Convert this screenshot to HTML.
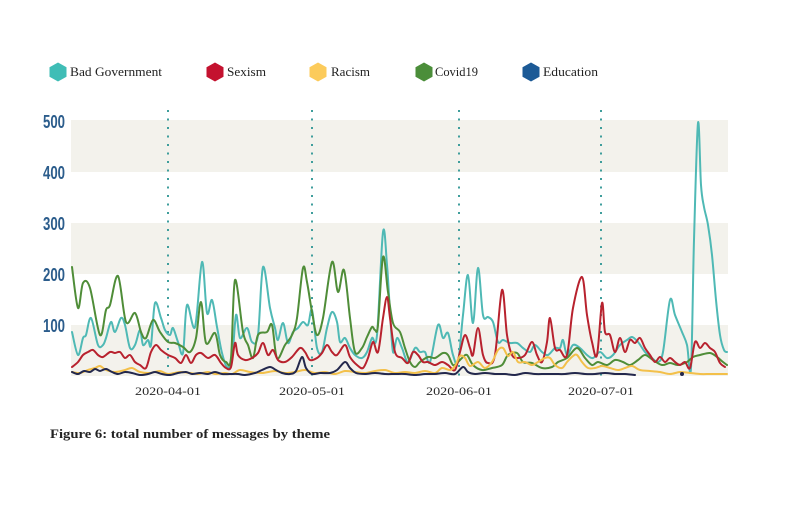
<!DOCTYPE html>
<html><head><meta charset="utf-8"><style>
html,body{margin:0;padding:0;background:#fff;}
svg{display:block;}
</style></head><body>
<svg width="799" height="508" viewBox="0 0 799 508" xmlns="http://www.w3.org/2000/svg">
<rect width="799" height="508" fill="#fff"/>
<rect x="71" y="120" width="657" height="52" fill="#f3f2ec"/>
<rect x="71" y="223" width="657" height="51" fill="#f3f2ec"/>
<rect x="71" y="325" width="657" height="51" fill="#f3f2ec"/>
<g font-family="'Liberation Sans Narrow','Liberation Sans',sans-serif" font-size="18" font-weight="bold" fill="#2c5d8c">
<text x="43" y="128" textLength="22" lengthAdjust="spacingAndGlyphs">500</text>
<text x="43" y="179" textLength="22" lengthAdjust="spacingAndGlyphs">400</text>
<text x="43" y="230" textLength="22" lengthAdjust="spacingAndGlyphs">300</text>
<text x="43" y="281" textLength="22" lengthAdjust="spacingAndGlyphs">200</text>
<text x="43" y="332" textLength="22" lengthAdjust="spacingAndGlyphs">100</text>
</g>
<g stroke="#3f9e9c" stroke-width="2" stroke-dasharray="2 6.5">
<line x1="168" y1="110" x2="168" y2="376"/>
<line x1="312" y1="110" x2="312" y2="376"/>
<line x1="459" y1="110" x2="459" y2="376"/>
<line x1="601" y1="110" x2="601" y2="376"/>
</g>
<g fill="none" stroke-width="2" stroke-linejoin="round" stroke-linecap="round">
<polyline class="s" stroke="#4fb9b5" points="72,332 78,355 83,338 86,335 91,318 98,345 103,345 106,338 111,322 115,332 121,318 125,325 130,348 135,345 140,330 143,345 148,340 151,345 155,303 161,318 165,330 170,335 173,328 178,342 183,353 187,305 195,327 202,262 207,313 212,300 217,327 222,353 227,367 232,360 236,315 240,338 247,328 252,342 258,335 263,267 270,308 275,328 278,340 283,323 288,343 293,332 298,328 303,322 308,325 312,310 317,348 322,352 327,328 332,312 337,322 340,342 345,338 350,348 355,355 362,358 367,352 372,338 377,335 383,232 387,265 390,312 393,352 397,338 402,348 408,362 415,348 420,352 425,352 430,362 438,325 443,338 448,333 453,355 458,362 463,315 468,275 473,323 478,268 483,315 488,317 493,322 498,342 503,340 510,343 517,343 523,348 530,352 535,345 542,352 548,355 555,348 560,348 563,340 567,355 573,345 580,348 587,355 593,358 600,352 607,358 613,355 620,345 627,340 632,337 638,342 645,352 652,358 658,362 663,352 670,300 675,315 682,332 687,345 691,368 694,240 698,123 701,185 704,207 708,225 712,255 716,300 720,335 724,350 727,352"/>
<polyline class="s" stroke="#4f8d38" points="72,267 78,308 83,283 90,288 100,335 106,310 110,305 118,276 126,322 135,313 141,332 146,338 153,320 160,332 168,342 175,343 183,347 190,352 196,338 201,302 206,343 215,333 220,355 226,362 231,358 235,280 243,332 248,345 253,358 258,335 267,332 272,325 277,358 285,345 292,335 297,318 303,268 307,282 312,312 317,335 323,318 332,262 338,292 344,270 350,318 355,352 362,348 367,337 372,327 375,330 378,325 383,257 388,292 393,323 400,332 405,348 410,362 415,367 420,362 428,357 435,358 443,353 448,355 453,365 458,362 462,358 467,355 473,365 482,370 492,368 502,365 508,355 517,353 523,362 532,363 542,368 552,367 558,362 567,358 577,348 585,358 592,365 598,362 607,365 615,360 623,362 630,365 638,360 645,355 653,360 662,365 670,363 678,365 687,362 693,357 700,355 710,353 717,357 723,362 727,365"/>
<polyline class="s" stroke="#b8222e" points="72,367 78,362 83,355 88,352 93,350 98,355 103,357 110,352 115,353 120,352 125,358 130,355 135,362 140,365 146,368 151,352 156,345 161,350 168,355 175,358 181,363 186,355 191,363 196,355 201,353 208,358 215,355 221,363 226,368 231,367 235,343 238,355 245,360 252,358 258,353 263,343 268,355 273,350 278,360 285,362 292,357 300,348 305,352 310,360 317,358 322,353 327,345 332,352 337,355 345,345 350,357 357,365 363,368 368,358 373,342 378,352 383,318 387,297 390,318 395,352 402,358 408,363 413,352 418,355 423,362 428,362 435,365 442,362 448,365 455,370 460,352 465,335 470,348 473,355 478,328 483,355 488,363 495,355 502,290 507,335 512,355 518,358 525,355 532,342 537,355 542,362 547,342 550,318 555,348 560,350 567,355 573,308 582,277 587,315 592,342 597,355 602,303 605,332 610,335 615,352 620,338 625,352 630,340 635,343 640,338 645,348 650,355 655,362 660,357 665,362 670,358 675,362 680,365 685,362 690,368 695,342 700,348 705,343 710,348 715,352 720,363 725,367"/>
<polyline class="s" stroke="#f3c04a" points="72,372 80,373 88,370 95,368 100,366 106,370 115,372 125,370 132,368 140,372 150,373 160,371 168,374 180,372 190,373 198,374 208,372 215,374 225,373 232,374 240,370 250,372 262,373 275,371 285,373 295,372 305,370 315,373 325,372 335,374 345,371 355,372 365,373 375,371 385,370 395,373 405,372 415,373 425,371 435,373 442,368 450,370 455,366 460,356 465,358 470,366 478,362 485,368 492,362 498,350 503,348 508,356 513,352 518,362 525,362 532,365 538,362 545,358 550,358 555,365 562,368 567,362 573,356 577,355 582,362 588,368 595,368 602,366 610,368 618,370 625,368 632,366 640,370 650,371 660,372 670,374 680,372 690,373 700,374 710,374 720,374 727,374"/>
<polyline class="s" stroke="#23284d" points="72,372 78,374 84,371 90,372 95,369 100,371 106,369 112,372 118,374 125,372 132,373 140,375 148,374 155,372 162,374 170,375 178,373 186,372 192,374 200,373 208,374 215,372 222,374 230,374 238,374 245,375 255,373 262,370 270,367 276,370 282,373 290,374 296,371 302,357 306,368 312,374 320,373 330,373 337,370 345,362 350,368 356,373 365,374 375,373 385,374 395,374 405,374 415,375 425,374 435,374 445,373 455,374 463,367 468,372 475,374 485,373 495,374 505,374 515,375 525,373 535,374 545,374 555,374 565,374 575,373 585,374 595,374 605,373 615,374 625,374 635,375"/>
<circle cx="682" cy="374" r="2" fill="#23284d" stroke="none"/>
</g>
<g font-family="'Liberation Serif',serif" font-size="12" fill="#2a2a2a" text-anchor="middle">
<text x="168" y="395" textLength="66" lengthAdjust="spacingAndGlyphs">2020-04-01</text>
<text x="312" y="395" textLength="66" lengthAdjust="spacingAndGlyphs">2020-05-01</text>
<text x="459" y="395" textLength="66" lengthAdjust="spacingAndGlyphs">2020-06-01</text>
<text x="601" y="395" textLength="66" lengthAdjust="spacingAndGlyphs">2020-07-01</text>
</g>
<g>
<polygon points="58,62.5 66.5,67.3 66.5,76.7 58,81.5 49.5,76.7 49.5,67.3" fill="#3fbdb6"/>
<polygon points="215,62.5 223.5,67.3 223.5,76.7 215,81.5 206.5,76.7 206.5,67.3" fill="#c4122f"/>
<polygon points="318,62.5 326.5,67.3 326.5,76.7 318,81.5 309.5,76.7 309.5,67.3" fill="#fccb5b"/>
<polygon points="424,62.5 432.5,67.3 432.5,76.7 424,81.5 415.5,76.7 415.5,67.3" fill="#4b8e3a"/>
<polygon points="531,62.5 539.5,67.3 539.5,76.7 531,81.5 522.5,76.7 522.5,67.3" fill="#1c5a96"/>
</g>
<g font-family="'Liberation Serif',serif" font-size="13" fill="#222">
<text x="70" y="76" textLength="92" lengthAdjust="spacingAndGlyphs">Bad Government</text>
<text x="227" y="76" textLength="39" lengthAdjust="spacingAndGlyphs">Sexism</text>
<text x="331" y="76" textLength="39" lengthAdjust="spacingAndGlyphs">Racism</text>
<text x="435" y="76" textLength="43" lengthAdjust="spacingAndGlyphs">Covid19</text>
<text x="543" y="76" textLength="55" lengthAdjust="spacingAndGlyphs">Education</text>
</g>
<text x="50" y="438" font-family="'Liberation Serif',serif" font-weight="bold" font-size="13" fill="#222" textLength="280" lengthAdjust="spacingAndGlyphs">Figure 6: total number of messages by theme</text>
</svg>
<script>
(function(){
var ns="http://www.w3.org/2000/svg";
var pls=document.querySelectorAll("polyline.s");
for(var k=0;k<pls.length;k++){
var pl=pls[k];
var pts=pl.getAttribute("points").trim().split(/\s+/).map(function(s){var a=s.split(",");return [parseFloat(a[0]),parseFloat(a[1])];});
var d="M"+pts[0][0]+","+pts[0][1];
for(var i=0;i<pts.length-1;i++){
var p0=pts[i>0?i-1:i],p1=pts[i],p2=pts[i+1],p3=pts[i+2<pts.length?i+2:i+1];
var t=6;
var c1x=p1[0]+(p2[0]-p0[0])/t,c1y=p1[1]+(p2[1]-p0[1])/t;
var c2x=p2[0]-(p3[0]-p1[0])/t,c2y=p2[1]-(p3[1]-p1[1])/t;
d+=" C"+c1x.toFixed(1)+","+c1y.toFixed(1)+" "+c2x.toFixed(1)+","+c2y.toFixed(1)+" "+p2[0]+","+p2[1];
}
var path=document.createElementNS(ns,"path");
path.setAttribute("d",d);
path.setAttribute("stroke",pl.getAttribute("stroke"));
path.setAttribute("fill","none");
pl.parentNode.replaceChild(path,pl);
}
})();
</script>
</body></html>
